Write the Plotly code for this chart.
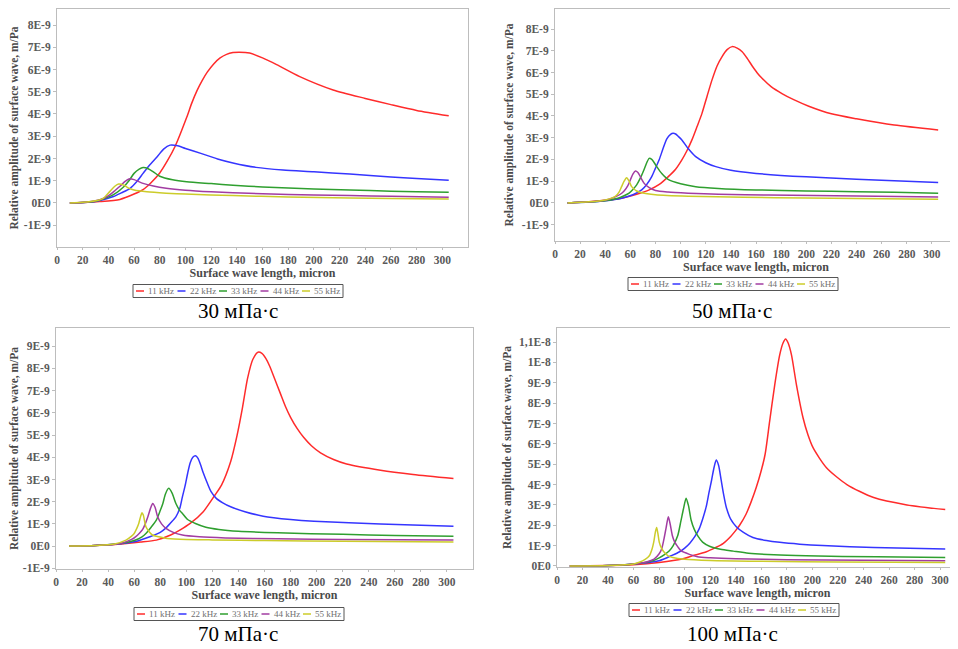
import plotly.graph_objects as go

FREQS = ['11 kHz', '22 kHz', '33 kHz', '44 kHz', '55 kHz']
COLORS = ['#ff2b2b', '#3535ff', '#2f9f2f', '#a23ca2', '#cccc2a']
CAPTIONS = ['30 мПа·с', '50 мПа·с', '70 мПа·с', '100 мПа·с']

X_TICKS = list(range(0, 301, 20))

# amplitudes below are in units of 1E-9 m/Pa
# --- 30 mPa*s
r30_x = [10, 20, 33, 49, 60, 67, 73, 80, 86, 92, 101, 105, 109, 113, 117, 122, 127, 132, 137, 142, 150, 160, 171, 189, 215, 240, 260, 280, 305]
r30_y = [0, 0.02, 0.06, 0.16, 0.4, 0.6, 0.9, 1.35, 1.9, 2.55, 3.85, 4.5, 5.05, 5.5, 5.88, 6.25, 6.52, 6.68, 6.76, 6.78, 6.74, 6.52, 6.22, 5.68, 5.08, 4.7, 4.42, 4.16, 3.92]
b30_x = [10, 20, 30, 44, 50, 57, 62, 67, 72, 78, 83, 88, 94, 100, 112, 125, 137, 155, 176, 200, 228, 260, 280, 305]
b30_y = [0, 0.02, 0.07, 0.29, 0.45, 0.66, 0.95, 1.33, 1.7, 2.08, 2.42, 2.6, 2.57, 2.45, 2.23, 1.98, 1.8, 1.6, 1.48, 1.4, 1.3, 1.17, 1.1, 1.02]
g30_x = [10, 20, 30, 38, 44, 52, 56, 60, 64, 67, 71, 75, 80, 90, 101, 120, 137, 160, 200, 228, 260, 280, 305]
g30_y = [0, 0.02, 0.08, 0.22, 0.37, 0.73, 1.0, 1.33, 1.52, 1.59, 1.54, 1.4, 1.2, 1.04, 0.95, 0.87, 0.8, 0.72, 0.63, 0.58, 0.53, 0.5, 0.48]
p30_x = [10, 20, 30, 36, 41, 45, 49, 53, 56, 60, 67, 75, 85, 100, 120, 137, 160, 200, 228, 260, 305]
p30_y = [0, 0.02, 0.1, 0.2, 0.36, 0.55, 0.75, 0.97, 1.08, 1.05, 0.88, 0.76, 0.66, 0.57, 0.5, 0.46, 0.41, 0.36, 0.33, 0.3, 0.26]
y30_x = [10, 20, 30, 36, 41, 45, 48, 52, 56, 60, 70, 85, 100, 137, 180, 228, 260, 305]
y30_y = [0, 0.03, 0.1, 0.21, 0.51, 0.75, 0.85, 0.8, 0.66, 0.58, 0.5, 0.44, 0.4, 0.33, 0.27, 0.22, 0.2, 0.18]

# --- 50 mPa*s
r50_x = [10, 27, 40, 53, 65, 75, 83, 90, 96, 101, 105, 109, 113, 117, 121, 125, 129, 133, 137, 141, 145, 149, 153, 157, 161, 165, 172, 181, 190, 202, 220, 240, 270, 305]
r50_y = [0, 0.06, 0.12, 0.22, 0.4, 0.6, 0.85, 1.2, 1.55, 1.98, 2.4, 2.9, 3.5, 4.12, 4.9, 5.66, 6.3, 6.73, 7.05, 7.19, 7.12, 6.95, 6.65, 6.3, 5.98, 5.72, 5.35, 5.02, 4.75, 4.45, 4.1, 3.87, 3.58, 3.36]
b50_x = [10, 27, 40, 53, 62, 69, 73, 77, 80, 83, 86, 89, 92, 94, 96, 98, 101, 106, 112, 120, 128, 140, 160, 200, 240, 270, 305]
b50_y = [0, 0.04, 0.1, 0.22, 0.38, 0.6, 0.85, 1.21, 1.6, 2.0, 2.5, 2.95, 3.15, 3.2, 3.17, 3.07, 2.9, 2.5, 2.13, 1.85, 1.67, 1.5, 1.36, 1.2, 1.09, 1.02, 0.94]
g50_x = [10, 27, 40, 50, 55, 59, 62, 65, 68, 71, 73, 75, 77, 79, 81, 85, 90, 100, 112, 130, 160, 200, 240, 270, 305]
g50_y = [0, 0.04, 0.1, 0.22, 0.33, 0.45, 0.62, 0.83, 1.15, 1.55, 1.85, 2.05, 2.0, 1.85, 1.67, 1.35, 1.08, 0.88, 0.75, 0.67, 0.6, 0.55, 0.52, 0.49, 0.45]
p50_x = [10, 27, 40, 48, 52, 55, 58, 60, 62, 64, 66, 68, 71, 75, 80, 90, 106, 130, 170, 240, 305]
p50_y = [0, 0.05, 0.12, 0.28, 0.4, 0.55, 0.8, 1.06, 1.33, 1.47, 1.4, 1.2, 0.9, 0.7, 0.57, 0.5, 0.45, 0.4, 0.36, 0.32, 0.27]
y50_x = [10, 27, 40, 45, 48, 51, 53, 55, 57, 59, 61, 65, 69, 80, 106, 150, 200, 240, 305]
y50_y = [0, 0.05, 0.14, 0.22, 0.3, 0.5, 0.75, 1.0, 1.16, 1.0, 0.75, 0.55, 0.47, 0.38, 0.31, 0.26, 0.23, 0.2, 0.17]

# --- 70 mPa*s
r70_x = [10, 30, 50, 65, 77, 88, 95, 103, 113, 122, 127, 134, 139, 143, 147, 151, 155, 158, 161, 164, 168, 172, 176, 180, 185, 190, 196, 203, 213, 223, 249, 274, 305]
r70_y = [0, 0.03, 0.1, 0.18, 0.27, 0.5, 0.72, 1.02, 1.55, 2.3, 2.75, 3.8, 5.0, 6.2, 7.55, 8.4, 8.73, 8.68, 8.45, 8.1, 7.5, 6.9, 6.3, 5.8, 5.3, 4.9, 4.52, 4.2, 3.9, 3.7, 3.42, 3.23, 3.05]
b70_x = [10, 30, 51, 62, 72, 80, 84, 88, 92, 95, 97, 99, 101, 103, 105, 107, 109, 111, 113, 116, 119, 123, 128, 134, 145, 159, 180, 198, 249, 305]
b70_y = [0, 0.03, 0.12, 0.22, 0.42, 0.62, 0.8, 1.05, 1.32, 1.7, 2.22, 2.7, 3.27, 3.75, 4.0, 4.07, 3.95, 3.65, 3.3, 2.85, 2.45, 2.15, 1.95, 1.77, 1.55, 1.35, 1.2, 1.12, 1.0, 0.9]
g70_x = [10, 30, 50, 60, 66, 69, 73, 77, 80, 82, 84, 86.5, 89, 92, 95, 97, 101, 107, 115, 125, 140, 170, 220, 260, 305]
g70_y = [0, 0.03, 0.12, 0.25, 0.42, 0.57, 0.85, 1.17, 1.6, 1.92, 2.35, 2.6, 2.4, 1.92, 1.6, 1.47, 1.2, 1.02, 0.85, 0.75, 0.67, 0.6, 0.53, 0.48, 0.45]
p70_x = [10, 30, 50, 58, 61, 64, 66.5, 68.5, 70.5, 72.5, 74.2, 76, 78, 81, 84.4, 90, 97, 110, 130, 170, 220, 305]
p70_y = [0, 0.03, 0.12, 0.3, 0.42, 0.58, 0.75, 1.0, 1.32, 1.7, 1.92, 1.75, 1.32, 1.0, 0.8, 0.62, 0.5, 0.42, 0.37, 0.33, 0.3, 0.27]
y70_x = [10, 30, 45, 53.7, 58, 60, 62, 63.5, 65, 66, 67, 69, 71.5, 74, 79, 84, 95, 120, 160, 220, 305]
y70_y = [0, 0.03, 0.1, 0.27, 0.45, 0.57, 0.8, 1.02, 1.35, 1.5, 1.4, 0.87, 0.65, 0.5, 0.42, 0.35, 0.31, 0.28, 0.25, 0.22, 0.18]

# --- 100 mPa*s
r100_x = [10, 40, 60, 80, 98, 106, 117, 124, 130, 136, 140, 143, 148, 152, 156, 160, 163, 166.5, 170.5, 174.4, 177, 179, 181, 183.6, 187.5, 192.7, 196.5, 200.6, 211, 227, 248, 274, 304]
r100_y = [0, 0.02, 0.06, 0.17, 0.34, 0.5, 0.7, 0.9, 1.1, 1.45, 1.75, 2.0, 2.54, 3.15, 3.85, 4.7, 5.5, 7.1, 8.9, 10.37, 10.95, 11.15, 10.95, 10.37, 8.9, 7.27, 6.45, 5.8, 4.83, 4.0, 3.36, 3.0, 2.77]
b100_x = [10, 40, 60, 80, 90, 96, 100, 104, 108, 111.5, 114, 116.8, 119, 121, 123, 124.7, 126.5, 128.6, 130.5, 132.5, 136, 140.4, 146, 153.4, 164, 174.4, 190, 208, 248, 304]
b100_y = [0, 0.02, 0.1, 0.26, 0.52, 0.7, 0.88, 1.12, 1.45, 1.85, 2.3, 2.9, 3.6, 4.2, 4.85, 5.2, 4.95, 4.2, 3.5, 2.9, 2.3, 1.93, 1.65, 1.4, 1.25, 1.16, 1.07, 1.0, 0.91, 0.83]
g100_x = [10, 40, 60, 75, 80, 85, 88, 91, 94.5, 97, 99, 101.1, 103, 105, 107.5, 110.5, 114, 119.4, 128, 138, 150, 170, 195, 250, 304]
g100_y = [0, 0.02, 0.1, 0.26, 0.4, 0.6, 0.75, 1.0, 1.48, 2.2, 2.8, 3.33, 2.95, 2.26, 1.8, 1.45, 1.17, 0.97, 0.82, 0.73, 0.63, 0.55, 0.5, 0.45, 0.42]
p100_x = [10, 40, 60, 70, 76, 80, 82, 84, 85.5, 87.2, 88.8, 90.3, 92, 94.5, 97, 103.7, 110, 120, 140, 180, 240, 304]
p100_y = [0, 0.02, 0.1, 0.2, 0.34, 0.6, 0.85, 1.4, 1.9, 2.42, 2.0, 1.5, 1.2, 0.95, 0.75, 0.57, 0.45, 0.4, 0.35, 0.31, 0.28, 0.26]
y100_x = [10, 40, 60, 64.4, 69, 72.3, 74.5, 75.7, 77, 78, 79, 80.1, 82, 84, 87, 90.6, 100, 120, 160, 220, 304]
y100_y = [0, 0.02, 0.1, 0.18, 0.32, 0.5, 0.85, 1.16, 1.65, 1.89, 1.6, 1.16, 0.85, 0.67, 0.5, 0.42, 0.33, 0.27, 0.23, 0.2, 0.17]

Y_TICKS_A = [-1, 0, 1, 2, 3, 4, 5, 6, 7, 8]
Y_TEXT_A = ['-1E-9', '0E0', '1E-9', '2E-9', '3E-9', '4E-9', '5E-9', '6E-9', '7E-9', '8E-9']
Y_TICKS_B = [-1, 0, 1, 2, 3, 4, 5, 6, 7, 8, 9]
Y_TEXT_B = ['-1E-9', '0E0', '1E-9', '2E-9', '3E-9', '4E-9', '5E-9', '6E-9', '7E-9', '8E-9', '9E-9']
Y_TICKS_C = [0, 1, 2, 3, 4, 5, 6, 7, 8, 9, 10, 11]
Y_TEXT_C = ['0E0', '1E-9', '2E-9', '3E-9', '4E-9', '5E-9', '6E-9', '7E-9', '8E-9', '9E-9', '1E-8', '1,1E-8']

# the page body has an 8px margin, so the figure sits 8px in from the window corner
OFF = 8
W, H = 958 - OFF, 649 - OFF
SERIF = 'Liberation Serif, Times New Roman, serif'


def px(x):
    return (x - OFF) / W


def py(y):
    return 1 - (y - OFF) / H


panels = [
    dict(curves=[(r30_x, r30_y), (b30_x, b30_y), (g30_x, g30_y), (p30_x, p30_y), (y30_x, y30_y)],
         frame=(57, 468, 9, 247), yrange=(-1.98, 8.72), xmax=320,
         ticks=(Y_TICKS_A, Y_TEXT_A), legend=(133, 291), caption=(238, 311)),
    dict(curves=[(r50_x, r50_y), (b50_x, b50_y), (g50_x, g50_y), (p50_x, p50_y), (y50_x, y50_y)],
         frame=(555, 957, 9, 241), yrange=(-1.75, 8.92), xmax=320,
         ticks=(Y_TICKS_A, Y_TEXT_A), legend=(628, 284), caption=(732, 311)),
    dict(curves=[(r70_x, r70_y), (b70_x, b70_y), (g70_x, g70_y), (p70_x, p70_y), (y70_x, y70_y)],
         frame=(56, 473, 328, 569), yrange=(-1.03, 9.82), xmax=320,
         ticks=(Y_TICKS_B, Y_TEXT_B), legend=(134, 614), caption=(238, 634)),
    dict(curves=[(r100_x, r100_y), (b100_x, b100_y), (g100_x, g100_y), (p100_x, p100_y), (y100_x, y100_y)],
         frame=(557, 958, 328, 567), yrange=(-0.05, 11.69), xmax=314,
         ticks=(Y_TICKS_C, Y_TEXT_C), legend=(629, 610), caption=(732, 634)),
]

fig = go.Figure()
layout = dict(
    width=W, height=H,
    margin=dict(l=0, r=0, t=0, b=0),
    paper_bgcolor='white', plot_bgcolor='white',
    showlegend=False,
    annotations=[], shapes=[],
)

tick_font = dict(family=SERIF, size=11.5, color='#5a5a5a', weight='bold')
title_font = dict(family=SERIF, size=12, color='#4a4a4a', weight='bold')

for i, p in enumerate(panels):
    n = '' if i == 0 else str(i + 1)
    left, right, top, bottom = p['frame']
    for (xs, ys), name, color in zip(p['curves'], FREQS, COLORS):
        fig.add_trace(go.Scatter(
            x=xs, y=[v * 1e-9 for v in ys],
            mode='lines', name=name,
            line=dict(color=color, width=1.5, shape='spline', smoothing=0.7),
            xaxis='x' + n, yaxis='y' + n,
        ))
    tv, tt = p['ticks']
    layout['xaxis' + n] = dict(
        domain=[px(left), min(px(right), 1)], anchor='y' + n, automargin=False,
        range=[0, p['xmax']], tickvals=X_TICKS,
        showgrid=False, zeroline=False,
        showline=True, mirror=True, linecolor='#bdbdbd', linewidth=1,
        ticks='outside', ticklen=2, tickcolor='#bdbdbd',
        tickfont=tick_font,
        title=dict(text='Surface wave length, micron', font=title_font, standoff=2),
    )
    layout['yaxis' + n] = dict(
        domain=[py(bottom), py(top)], anchor='x' + n, automargin=False,
        range=[v * 1e-9 for v in p['yrange']],
        tickvals=[v * 1e-9 for v in tv], ticktext=tt,
        showgrid=False, zeroline=False,
        showline=True, mirror=True, linecolor='#bdbdbd', linewidth=1,
        ticks='outside', ticklen=3, tickcolor='#bdbdbd',
        tickfont=tick_font,
        title=dict(text='Relative amplitude of surface wave, m/Pa',
                   font=dict(family=SERIF, size=11.5, color='#4a4a4a', weight='bold'),
                   standoff=5),
    )

    # legend box: short coloured line + label for each series
    lx, ly = p['legend']
    pitch = 41.5
    layout['shapes'].append(dict(
        type='rect', xref='paper', yref='paper',
        x0=px(lx), x1=px(lx + 210), y0=py(ly + 6.5), y1=py(ly - 6.5),
        line=dict(color='#555555', width=1), fillcolor='white', layer='above'))
    for k, (name, color) in enumerate(zip(FREQS, COLORS)):
        x0 = lx + 3 + pitch * k
        layout['shapes'].append(dict(
            type='line', xref='paper', yref='paper',
            x0=px(x0), x1=px(x0 + 8), y0=py(ly), y1=py(ly),
            line=dict(color=color, width=1.5), layer='above'))
        layout['annotations'].append(dict(
            xref='paper', yref='paper', x=px(x0 + 10), y=py(ly),
            xanchor='left', yanchor='middle', showarrow=False,
            text=name, font=dict(family=SERIF, size=9, color='#707070'),
        ))

    cx, cy = p['caption']
    layout['annotations'].append(dict(
        xref='paper', yref='paper', x=px(cx), y=py(cy),
        xanchor='center', yanchor='middle', showarrow=False,
        text=CAPTIONS[i], font=dict(family=SERIF, size=21, color='black'),
    ))

fig.update_layout(**layout)
fig.write_html('out.html')
